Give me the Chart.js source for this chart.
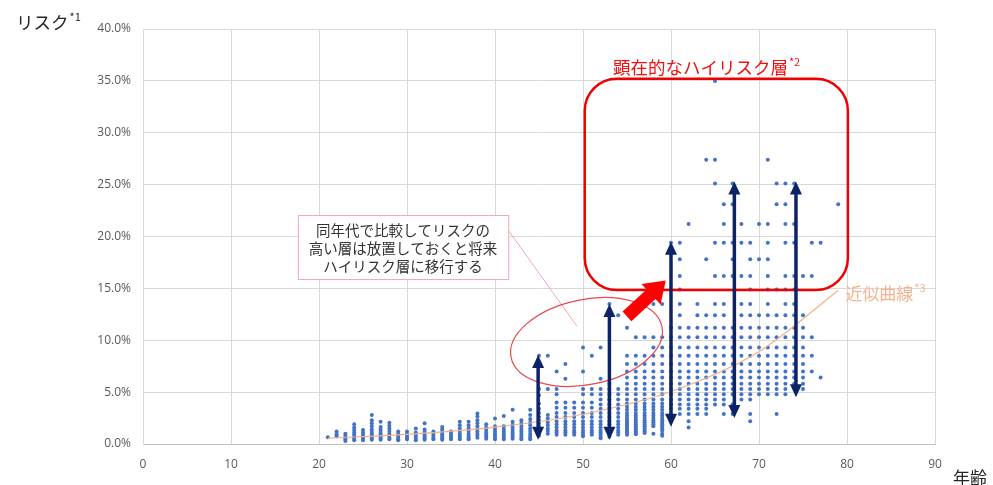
<!DOCTYPE html>
<html lang="ja">
<head>
<meta charset="utf-8">
<title>年齢とリスク</title>
<script src="https://cdn.jsdelivr.net/npm/chart.js@4/dist/chart.umd.min.js"></script>
<style>
  html, body { margin: 0; padding: 0; background: #ffffff; }
  #wrap { width: 993px; height: 485px; }
</style>
</head>
<body>
<div id="wrap"><canvas id="chart" width="993" height="485"></canvas></div>
<script>
// Ages (years) that have at least one person plotted
const ages = [21, 22, 23, 24, 25, 26, 27, 28, 29, 30,
              31, 32, 33, 34, 35, 36, 37, 38, 39, 40,
              41, 42, 43, 44, 45, 46, 47, 48, 49, 50,
              51, 52, 53, 54, 55, 56, 57, 58, 59, 60,
              61, 62, 63, 64, 65, 66, 67, 68, 69, 70,
              71, 72, 73, 74, 75, 76, 77, 79];

// Risk values (%) observed at each age, same order as `ages`
const riskByAge = [
  [0.65],
  [1.2, 0.95, 0.75],
  [1.0, 0.8, 0.6, 0.45, 0.3],
  [1.9, 1.6, 1.35, 1.1, 0.9, 0.7, 0.5, 0.35],
  [1.35, 1.1, 0.9, 0.7, 0.5, 0.35],
  [2.8, 2.3, 2.0, 1.7, 1.4, 1.15, 0.95, 0.75, 0.55, 0.4],
  [2.15, 1.65, 1.4, 1.15, 0.95, 0.75, 0.55, 0.4],
  [2.05, 1.75, 1.5, 1.25, 1.0, 0.8, 0.6, 0.45],
  [1.2, 1.0, 0.8, 0.6, 0.45, 0.35],
  [1.2, 1.0, 0.8, 0.6, 0.45],
  [1.5, 1.1, 0.9, 0.7, 0.5, 0.35],
  [2.0, 1.4, 1.15, 0.95, 0.75, 0.55, 0.4],
  [1.2, 1.0, 0.8, 0.6, 0.45],
  [1.65, 1.4, 1.15, 0.95, 0.75, 0.55, 0.4],
  [1.2, 1.0, 0.8, 0.6, 0.45],
  [2.15, 1.8, 1.5, 1.25, 1.0, 0.8, 0.6, 0.45],
  [2.15, 1.8, 1.5, 1.25, 1.0, 0.8, 0.6, 0.45],
  [2.95, 2.65, 2.3, 2.0, 1.7, 1.45, 1.2, 1.0, 0.8, 0.6],
  [1.9, 1.6, 1.35, 1.1, 0.9, 0.7, 0.5],
  [2.45, 1.7, 1.45, 1.2, 1.0, 0.8, 0.6, 0.45],
  [2.7, 1.7, 1.45, 1.2, 1.0, 0.8, 0.6, 0.45],
  [3.3, 2.15, 1.85, 1.6, 1.35, 1.1, 0.9, 0.7, 0.5],
  [2.3, 2.0, 1.7, 1.45, 1.2, 1.0, 0.8, 0.6, 0.45],
  [3.3, 2.8, 2.4, 2.1, 1.8, 1.5, 1.25, 1.0, 0.8, 0.6, 0.45],
  [8.5, 5.3, 4.7, 3.9, 3.4, 3.0, 2.6, 2.3, 2.0, 1.7, 1.45, 1.2, 1.0, 0.8],
  [8.5, 5.3, 2.8, 2.45, 2.1, 1.8, 1.5, 1.25, 1.0],
  [7.0, 5.3, 4.8, 4.0, 3.5, 3.0, 2.6, 2.2, 1.9, 1.6, 1.3, 1.1, 0.9],
  [7.7, 6.3, 4.0, 3.5, 3.0, 2.6, 2.2, 1.9, 1.6, 1.3, 1.1, 0.9],
  [4.0, 3.5, 3.0, 2.6, 2.2, 1.9, 1.6, 1.3, 1.1, 0.9],
  [9.3, 7.0, 5.3, 4.8, 4.0, 3.5, 3.0, 2.6, 2.2, 1.9, 1.6, 1.3, 1.1, 0.9, 0.75],
  [8.5, 5.3, 4.8, 4.0, 3.5, 3.0, 2.6, 2.2, 1.9, 1.6, 1.3, 1.1, 0.9],
  [9.3, 6.3, 5.3, 4.8, 4.3, 3.8, 3.4, 3.0, 2.6, 2.2, 1.9, 1.6, 1.3, 1.1, 0.9, 0.7, 0.55],
  [13.5, 5.8, 5.3, 4.8, 4.3, 3.8, 3.4, 3.0, 2.6, 2.2, 1.9, 1.6, 1.3, 1.1, 0.9, 0.7],
  [12.4, 5.3, 4.8, 4.3, 3.8, 3.4, 3.0, 2.6, 2.2, 1.9, 1.6, 1.3, 1.1, 0.9],
  [11.2, 8.5, 7.7, 7.0, 6.4, 5.8, 5.3, 4.8, 4.3, 3.9, 3.6, 3.3, 3.0, 2.75, 2.5, 2.3, 2.1, 1.9, 1.7, 1.5, 1.35, 1.2, 1.05, 0.9],
  [10.3, 8.5, 7.7, 7.0, 6.4, 5.8, 5.3, 4.8, 4.3, 3.9, 3.6, 3.3, 3.0, 2.75, 2.5, 2.3, 2.1, 1.9, 1.7, 1.5, 1.35, 1.2, 1.05, 0.95],
  [13.5, 10.3, 8.5, 7.7, 7.0, 6.4, 5.8, 5.3, 4.8, 4.3, 3.9, 3.6, 3.3, 3.0, 2.75, 2.5, 2.3, 2.1, 1.9, 1.7, 1.5, 1.35, 1.2, 1.05],
  [13.5, 10.3, 9.3, 8.5, 7.7, 7.0, 6.4, 5.8, 5.3, 4.8, 4.3, 3.9, 3.6, 3.3, 3.0, 2.75, 2.5, 2.3, 2.1, 1.9, 1.7, 1.0],
  [13.5, 10.3, 9.3, 8.5, 7.7, 7.0, 6.4, 5.8, 5.3, 4.8, 4.3, 3.9, 3.6, 3.3, 3.0, 2.75, 2.5, 2.3, 2.1, 1.9, 1.7, 1.5, 1.3, 1.0, 0.8],
  [19.4, 11.2, 10.3, 9.3, 8.5, 7.7, 7.0, 6.4, 5.8, 5.3, 4.8, 4.3, 3.8, 3.4, 2.9],
  [19.4, 17.8, 16.2, 14.9, 13.5, 12.4, 11.2, 10.3, 9.3, 8.5, 7.7, 7.0, 6.4, 5.8, 5.3, 4.8, 4.3, 3.8, 3.4, 2.9],
  [21.2, 11.2, 10.3, 9.3, 8.5, 7.7, 7.0, 6.4, 5.8, 5.3, 4.8, 4.3, 3.8, 3.4, 2.9, 2.2, 1.6],
  [13.5, 12.4, 11.2, 10.3, 9.3, 8.5, 7.7, 7.0, 6.4, 5.8, 5.3, 4.8, 4.3, 3.8, 3.4, 2.9],
  [27.4, 17.8, 12.4, 11.2, 10.3, 9.3, 8.5, 7.7, 7.0, 6.4, 5.8, 5.3, 4.8, 4.3, 3.8, 3.4, 2.9],
  [35.0, 27.4, 25.1, 19.4, 16.2, 13.5, 12.4, 11.2, 10.3, 9.3, 8.5, 7.7, 7.0, 6.4, 5.8, 5.3, 4.8, 4.3, 3.8],
  [23.1, 21.2, 19.4, 16.2, 13.5, 12.4, 11.2, 10.3, 9.3, 8.5, 7.7, 7.0, 6.4, 5.8, 5.3, 4.8, 4.3, 3.8, 2.9],
  [25.1, 23.1, 19.4, 17.8, 16.2, 11.2, 10.3, 9.3, 8.5, 7.7, 7.0, 6.4, 5.8, 5.3, 4.8, 3.8, 2.9],
  [21.2, 19.4, 16.2, 13.5, 12.4, 11.2, 10.3, 9.3, 8.5, 7.7, 7.0, 6.4, 5.8, 5.3, 4.8, 4.3],
  [19.4, 17.8, 16.2, 14.9, 13.5, 12.4, 11.2, 10.3, 9.3, 8.5, 7.7, 7.0, 6.4, 5.8, 5.3, 4.8, 4.3, 2.9, 2.2],
  [21.2, 17.8, 12.4, 11.2, 10.3, 9.3, 8.5, 7.7, 7.0, 6.4, 5.8, 5.3, 4.8],
  [27.4, 21.2, 19.4, 17.8, 16.2, 14.9, 13.5, 12.4, 11.2, 10.3, 9.3, 8.5, 7.7, 7.0, 6.4, 5.8, 5.3, 4.8],
  [25.1, 23.1, 14.9, 12.4, 11.2, 10.3, 9.3, 8.5, 7.7, 7.0, 6.4, 5.8, 5.3, 4.8, 2.9],
  [25.1, 23.1, 21.2, 19.4, 16.2, 14.9, 13.5, 12.4, 11.2, 10.3, 9.3, 8.5, 7.7, 7.0, 6.4, 5.8, 5.3, 4.8],
  [25.1, 21.2, 19.4, 16.2, 14.9, 13.5, 12.4, 11.2, 10.3, 9.3, 8.5, 7.7, 7.0, 6.4, 5.8],
  [16.2, 12.4, 11.2, 10.3, 9.3, 8.5, 7.7, 7.0, 6.4, 5.8, 5.3],
  [19.4, 16.2, 10.3, 8.5, 7.0],
  [19.4, 6.4],
  [23.1]
];

// Fitted curve (近似曲線), read at a few ages
const trendAges = [21, 30, 40, 50, 60, 70, 79];
const trendRisk = [0.56, 0.93, 1.63, 2.87, 5.06, 8.9, 14.8];

// Axis ticks
const ageTicks = [0, 10, 20, 30, 40, 50, 60, 70, 80, 90];
const riskTicks = [0, 5, 10, 15, 20, 25, 30, 35, 40];

// Age-group spread arrows: age, lowest and highest risk in that age group (%)
const spreadAges = [44.9, 53.0, 60.0, 67.2, 74.2];
const spreadLow  = [0.4, 0.4, 1.67, 2.5, 4.5];
const spreadHigh = [8.58, 13.5, 19.5, 25.3, 25.3];

const points = [];
ages.forEach((a, i) => riskByAge[i].forEach(r => points.push({ x: a, y: r })));
const trend = trendAges.map((a, i) => ({ x: a, y: trendRisk[i] }));

const JP = '"Noto Sans CJK JP", "Noto Sans", sans-serif';
const NUM = '"Open Sans", "Noto Sans", sans-serif';

function arrowHead(ctx, x, y, dir, w, l) {
  // tip at (x, y); dir = -1 points up, +1 points down
  ctx.beginPath();
  ctx.moveTo(x, y);
  ctx.lineTo(x - w / 2, y - dir * l);
  ctx.lineTo(x + w / 2, y - dir * l);
  ctx.closePath();
  ctx.fill();
}

function textWithSup(ctx, main, sup, x, y, size, supSize, color, align) {
  ctx.save();
  ctx.fillStyle = color;
  ctx.textBaseline = 'middle';
  ctx.font = size + 'px ' + JP;
  const w1 = ctx.measureText(main).width;
  ctx.font = supSize + 'px ' + JP;
  const w2 = ctx.measureText(sup).width;
  let left = x;
  if (align === 'center') left = x - (w1 + w2) / 2;
  ctx.textAlign = 'left';
  ctx.font = size + 'px ' + JP;
  ctx.fillText(main, left, y);
  ctx.font = supSize + 'px ' + JP;
  ctx.fillText(sup, left + w1 + 1, y - size * 0.32);
  ctx.restore();
}

const overlay = {
  id: 'overlay',
  beforeDraw(chart) {
    const ctx = chart.ctx;
    ctx.save();
    ctx.fillStyle = '#ffffff';
    ctx.fillRect(0, 0, chart.width, chart.height);
    ctx.restore();
  },
  afterDatasetsDraw(chart) {
    const { ctx, scales: { x, y } } = chart;
    const px = v => x.getPixelForValue(v);
    const py = v => y.getPixelForValue(v);
    ctx.save();

    // callout box
    const bx0 = px(17.6), bx1 = px(41.5), by0 = py(22.07), by1 = py(15.9);
    ctx.strokeStyle = '#F2A9B3';
    ctx.lineWidth = 1;
    ctx.beginPath();
    ctx.moveTo(bx1, by0 + 15);
    ctx.lineTo(px(49.3), py(11.37));
    ctx.stroke();
    ctx.fillStyle = '#ffffff';
    ctx.fillRect(bx0, by0, bx1 - bx0, by1 - by0);
    ctx.strokeRect(bx0 + 0.5, by0 + 0.5, bx1 - bx0, by1 - by0);
    ctx.fillStyle = '#333333';
    ctx.font = '14.5px ' + JP;
    ctx.textAlign = 'center';
    ctx.textBaseline = 'middle';
    const cx = (bx0 + bx1) / 2;
    ctx.fillText('同年代で比較してリスクの', cx, by0 + 15);
    ctx.fillText('高い層は放置しておくと将来', cx, by0 + 33.5);
    ctx.fillText('ハイリスク層に移行する', cx, by0 + 51.5);

    // ellipse around the high-risk members of the 45–55 age group
    ctx.strokeStyle = '#E8484E';
    ctx.lineWidth = 1.2;
    ctx.beginPath();
    ctx.ellipse(px(50.4), py(9.83), 8.75 * (px(1) - px(0)), 4.1 * (py(0) - py(1)), -0.2, 0, Math.PI * 2);
    ctx.stroke();

    // high-risk zone
    const rx0 = px(50.2), rx1 = px(80.1), ry0 = py(35.2), ry1 = py(14.85);
    ctx.strokeStyle = '#F00000';
    ctx.lineWidth = 2.5;
    ctx.beginPath();
    ctx.roundRect(rx0, ry0, rx1 - rx0, ry1 - ry0, 32);
    ctx.stroke();

    // block arrow into the high-risk zone
    const ax0 = px(55.0), ay0 = py(12.3), ax1 = px(59.4), ay1 = py(15.75);
    const dx = ax1 - ax0, dy = ay1 - ay0, len = Math.hypot(dx, dy);
    const ux = dx / len, uy = dy / len, nx = -uy, ny = ux;
    const bw = 6.5, hw = 14, hl = 20;
    const hx = ax1 - ux * hl, hy = ay1 - uy * hl;
    ctx.fillStyle = '#FF0000';
    ctx.beginPath();
    ctx.moveTo(ax0 + nx * bw, ay0 + ny * bw);
    ctx.lineTo(hx + nx * bw, hy + ny * bw);
    ctx.lineTo(hx + nx * hw, hy + ny * hw);
    ctx.lineTo(ax1, ay1);
    ctx.lineTo(hx - nx * hw, hy - ny * hw);
    ctx.lineTo(hx - nx * bw, hy - ny * bw);
    ctx.lineTo(ax0 - nx * bw, ay0 - ny * bw);
    ctx.closePath();
    ctx.fill();

    // spread arrows
    ctx.strokeStyle = '#0D2366';
    ctx.fillStyle = '#0D2366';
    ctx.lineWidth = 3.5;
    spreadAges.forEach((a, i) => {
      const xa = px(a), yt = py(spreadHigh[i]), yb = py(spreadLow[i]);
      const hL = 13, hW = 12;
      ctx.beginPath();
      ctx.moveTo(xa, yt + hL - 1);
      ctx.lineTo(xa, yb - hL + 1);
      ctx.stroke();
      arrowHead(ctx, xa, yt, -1, hW, hL);
      arrowHead(ctx, xa, yb, 1, hW, hL);
    });

    // labels
    textWithSup(ctx, '顕在的なハイリスク層', '*2', px(53.4), py(36.3), 17.5, 11, '#F01010', 'left');
    textWithSup(ctx, '近似曲線', '*3', px(79.8), py(14.5), 17, 11, '#F2B48C', 'left');

    // axis titles
    textWithSup(ctx, 'リスク', '*1', 16, 22, 17.5, 11, '#262626', 'left');
    ctx.fillStyle = '#262626';
    ctx.font = '17px ' + JP;
    ctx.textAlign = 'left';
    ctx.textBaseline = 'middle';
    ctx.fillText('年齢', 953, 478);
    ctx.restore();
  }
};

new Chart(document.getElementById('chart'), {
  type: 'scatter',
  data: {
    datasets: [
      {
        type: 'line',
        label: '近似曲線',
        data: trend,
        borderColor: '#F4B183',
        borderWidth: 1.2,
        pointRadius: 0,
        tension: 0.4,
        cubicInterpolationMode: 'monotone',
        fill: false
      },
      {
        label: 'リスク',
        data: points,
        backgroundColor: '#4472C4',
        borderWidth: 0,
        pointRadius: 2,
        pointHoverRadius: 2
      }
    ]
  },
  options: {
    responsive: false,
    animation: false,
    devicePixelRatio: 1,
    layout: { padding: { top: 29, right: 58, bottom: 0, left: 0 } },
    plugins: { legend: { display: false }, tooltip: { enabled: false } },
    scales: {
      x: {
        type: 'linear',
        min: ageTicks[0],
        max: ageTicks[ageTicks.length - 1],
        afterBuildTicks: s => { s.ticks = ageTicks.map(v => ({ value: v })); },
        afterFit: s => { s.height = 41; },
        grid: { color: '#D9D9D9', drawTicks: false },
        border: { color: '#BFBFBF' },
        ticks: { color: '#595959', font: { family: NUM, size: 12 }, padding: 13, maxRotation: 0 }
      },
      y: {
        min: riskTicks[0],
        max: riskTicks[riskTicks.length - 1],
        afterBuildTicks: s => { s.ticks = riskTicks.map(v => ({ value: v })); },
        afterFit: s => { s.width = 143; },
        grid: { color: '#D9D9D9', drawTicks: false },
        border: { color: '#D9D9D9' },
        ticks: {
          color: '#595959',
          font: { family: NUM, size: 12 },
          padding: 12,
          callback: v => v.toFixed(1) + '%'
        }
      }
    }
  },
  plugins: [overlay]
});
</script>
</body>
</html>
